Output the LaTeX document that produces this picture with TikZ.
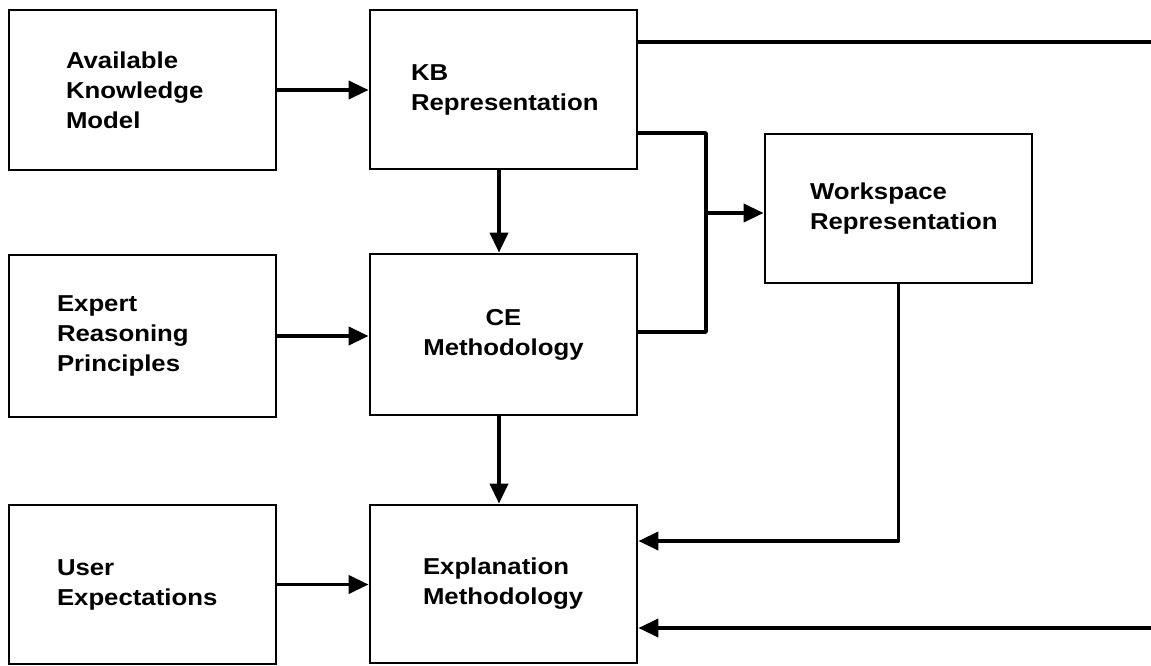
\documentclass[tikz,border=0pt]{standalone}
\usepackage{fontspec}
\newfontfamily\diafont[FakeStretch=1.12]{Liberation Sans}
\usetikzlibrary{arrows.meta}

\begin{document}
\begin{tikzpicture}[x=1pt, y=-1pt,
  box/.style={draw, line width=2.8pt, minimum width=267pt, align=left,
    inner ysep=0pt, font=\diafont\bfseries\fontsize{23}{30}\selectfont},
  conn/.style={line width=3.8pt, line join=round},
  arr/.style={-{Triangle[length=20pt,width=18pt]}}]
  \useasboundingbox (0,0) rectangle (1151,666);

  % left column: sources
  \node[box, minimum height=160pt, inner xsep=57pt, text width=153pt] (akm) at (142.5,90)
    {Available\\Knowledge\\Model};
  \node[box, minimum height=162pt, inner xsep=48pt, text width=171pt] (erp) at (142.5,336)
    {Expert\\Reasoning\\Principles};
  \node[box, minimum height=159pt, inner xsep=48pt, text width=171pt] (usr) at (142.5,584.5)
    {User\\Expectations};

  % middle column
  \node[box, minimum height=159pt, inner xsep=41pt, text width=185pt] (kb) at (503.5,89.5)
    {KB\\Representation};
  \node[box, minimum height=161pt, inner xsep=20pt, text width=227pt, align=center] (ce) at (503.5,334.5)
    {CE\\Methodology};
  \node[box, minimum height=158pt, inner xsep=53pt, text width=161pt] (expl) at (503.5,584)
    {Explanation\\Methodology};

  % right
  \node[box, minimum height=149pt, inner xsep=45pt, text width=177pt] (ws) at (898.5,208.5)
    {Workspace\\Representation};

  % routing points
  \coordinate (jt) at (706,133);
  \coordinate (jm) at (706,213);
  \coordinate (jb) at (706,332);
  \coordinate (outA) at (1151,42);
  \coordinate (wsb) at (898.5,541);
  \coordinate (outB) at (1151,628);

  % straight feeds
  \draw[conn, arr] (akm.east) -- (akm.east -| kb.west);
  \draw[conn, arr] (erp.east) -- (erp.east -| ce.west);
  \draw[conn, arr] (usr.east) -- (usr.east -| expl.west);
  \draw[conn, arr] ([xshift=-4.5pt]kb.south) -- ([xshift=-4.5pt]ce.north);
  \draw[conn, arr] ([xshift=-4.5pt]ce.south) -- ([xshift=-4.5pt]expl.north);

  % KB and CE into the workspace
  \draw[conn] (kb.east |- jt) -- (jt) -- (jb) -- (ce.east |- jb);
  \draw[conn, arr] (jm) -- (ws.west |- jm);

  % lines leaving / entering at the right
  \draw[conn] (kb.east |- outA) -- (outA);
  \draw[conn, arr] (ws.south) -- (wsb) -- (expl.east |- wsb);
  \draw[conn, arr] (outB) -- (expl.east |- outB);
\end{tikzpicture}
\end{document}
